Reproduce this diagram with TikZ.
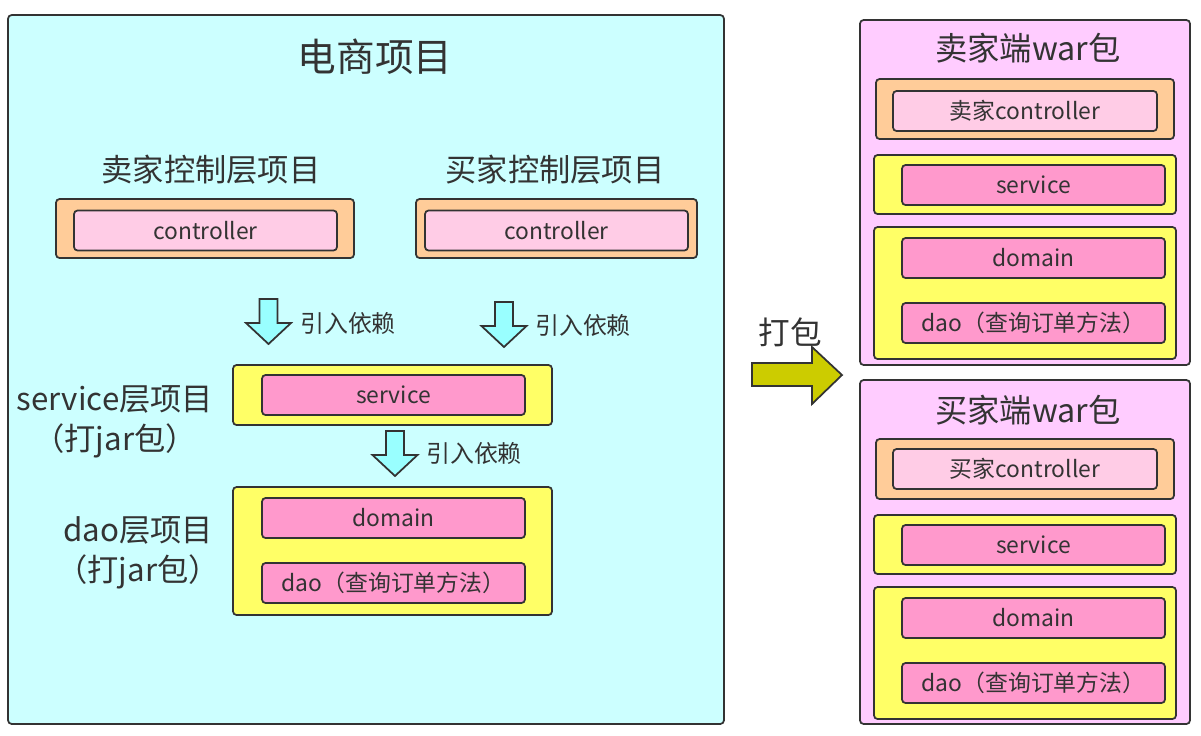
\documentclass[tikz,border=0pt]{standalone}
\usepackage{fontspec}
\setmainfont{Noto Sans CJK SC}
\definecolor{ink}{HTML}{333333}
\definecolor{projcyan}{HTML}{CCFFFF}
\definecolor{ctlpeach}{HTML}{FFCC99}
\definecolor{ctlpink}{HTML}{FFCCE6}
\definecolor{layeryellow}{HTML}{FFFF66}
\definecolor{layerpink}{HTML}{FF99CC}
\definecolor{warpink}{HTML}{FFCCFF}
\definecolor{depcyan}{HTML}{99FFFF}
\definecolor{packolive}{HTML}{CCCC00}
\tikzset{
  pane/.style={draw=ink, line width=1pt, rounded corners=2pt, inner sep=0pt, text=ink},
  ctlbox/.style={pane, fill=ctlpeach},
  ctlinner/.style={pane, fill=ctlpink, minimum width=5.26cm, minimum height=0.8cm, font=\fontsize{13}{15}\selectfont},
  layerbox/.style={pane, fill=layeryellow},
  layerinner/.style={pane, fill=layerpink, minimum width=5.26cm, minimum height=0.8cm, font=\fontsize{13}{15}\selectfont},
  warbox/.style={pane, fill=warpink, minimum width=6.6cm},
  biglabel/.style={text=ink, align=center, font=\fontsize{17.8}{22.7}\selectfont},
  deplabel/.style={text=ink, font=\fontsize{13.6}{16}\selectfont},
  deparrow/.style={draw=ink, line width=1pt, fill=depcyan, line join=miter},
}
\begin{document}
\begin{tikzpicture}[x=0.02cm, y=-0.02cm]
\useasboundingbox (0,0) rectangle (1201,735);

% Drawing project box
\node[pane, fill=projcyan, minimum width=14.32cm, minimum height=14.18cm] (ecom) at (366,369.5) {};
\node[text=ink, font=\fontsize{22}{26}\selectfont] (ecomtitle) at (375,57) {电商项目};

% Controller projects
\node[biglabel] (sellerlabel) at (211,170) {卖家控制层项目};
\node[biglabel] (buyerlabel) at (555,170) {买家控制层项目};
\node[ctlbox, minimum width=5.96cm, minimum height=1.18cm] (sellerctlbox) at (205,228.5) {};
\node[ctlinner] (sellerctl) at (205.5,230.5) {controller};
\node[ctlbox, minimum width=5.62cm, minimum height=1.18cm] (buyerctlbox) at (556.5,228.5) {};
\node[ctlinner] (buyerctl) at (556.5,230.5) {controller};

% Drawing dependency arrows
\draw[deparrow] (259.5,299) -- ++(18,0) -- ++(0,24) -- ++(13.5,0) -- ++(-22.5,21) -- ++(-22.5,-21) -- ++(13.5,0) -- cycle;
\node[deplabel] (dep1) at (348,323) {引入依赖};
\draw[deparrow] (495,302) -- ++(18,0) -- ++(0,24) -- ++(13.5,0) -- ++(-22.5,21) -- ++(-22.5,-21) -- ++(13.5,0) -- cycle;
\node[deplabel] (dep2) at (583,325) {引入依赖};
\draw[deparrow] (386,431) -- ++(18,0) -- ++(0,24) -- ++(13.5,0) -- ++(-22.5,21) -- ++(-22.5,-21) -- ++(13.5,0) -- cycle;
\node[deplabel] (dep3) at (474,453) {引入依赖};

% Service project
\node[biglabel] (servicelabel) at (115,422) {service层项目\\（打jar包）};
\node[layerbox, minimum width=6.38cm, minimum height=1.2cm] (servicebox) at (392.5,395) {};
\node[layerinner] (service) at (393.5,395) {service};

% Dao project
\node[biglabel] (daolabel) at (138,553) {dao层项目\\（打jar包）};
\node[layerbox, minimum width=6.38cm, minimum height=2.56cm] (daobox) at (392.5,551) {};
\node[layerinner] (domain) at (393.5,518) {domain};
\node[layerinner] (dao) at (393.5,583) {dao（查询订单方法）};

% Drawing pack arrow
\draw[draw=ink, line width=1pt, fill=packolive, line join=miter] (752,363) -- (812,363) -- (812,347) -- (842,375) -- (812,404) -- (812,386) -- (752,386) -- cycle;
\node[text=ink, font=\fontsize{18}{22}\selectfont] (packlabel) at (790,332) {打包};

% Seller war
\node[warbox, minimum height=6.9cm] (sellerwar) at (1025,192.5) {};
\node[biglabel, font=\fontsize{18.4}{22}\selectfont] (sellerwartitle) at (1028,48) {卖家端war包};
\node[ctlbox, minimum width=5.96cm, minimum height=1.2cm] (sellerwarctlbox) at (1025,109) {};
\node[ctlinner, minimum width=5.28cm] (sellerwarctl) at (1025,111) {卖家controller};
\node[layerbox, minimum width=6.04cm, minimum height=1.18cm] (sellerservicebox) at (1025,184.5) {};
\node[layerinner] (sellerservice) at (1033.5,185) {service};
\node[layerbox, minimum width=6.04cm, minimum height=2.64cm] (sellerdaobox) at (1025,293) {};
\node[layerinner] (sellerdomain) at (1033.5,258) {domain};
\node[layerinner] (sellerdao) at (1033.5,323) {dao（查询订单方法）};

% Buyer war
\node[warbox, minimum height=6.88cm] (buyerwar) at (1025,552) {};
\node[biglabel, font=\fontsize{18.4}{22}\selectfont] (buyerwartitle) at (1028,410) {买家端war包};
\node[ctlbox, minimum width=5.96cm, minimum height=1.2cm] (buyerwarctlbox) at (1025,469) {};
\node[ctlinner, minimum width=5.28cm] (buyerwarctl) at (1025,469) {买家controller};
\node[layerbox, minimum width=6.04cm, minimum height=1.18cm] (buyerservicebox) at (1025,544.5) {};
\node[layerinner] (buyerservice) at (1033.5,545) {service};
\node[layerbox, minimum width=6.04cm, minimum height=2.64cm] (buyerdaobox) at (1025,653) {};
\node[layerinner] (buyerdomain) at (1033.5,618) {domain};
\node[layerinner] (buyerdao) at (1033.5,683) {dao（查询订单方法）};
\end{tikzpicture}
\end{document}
